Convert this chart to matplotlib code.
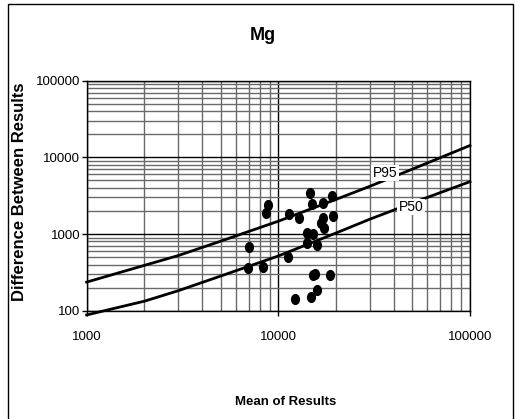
import matplotlib
matplotlib.use("Agg")
import matplotlib.pyplot as plt
from matplotlib.patches import Rectangle
from matplotlib.path import Path
from matplotlib.transforms import Affine2D
from matplotlib.ticker import FixedLocator, FixedFormatter, LogLocator, NullFormatter

# scatter: mean of results vs difference between results
mean_vals = [14620, 8800, 8590, 14930, 17030, 18980, 11410, 12860, 19230, 17030,
             16700, 17300, 14160, 15100, 14160, 15950, 7050, 11270, 6920, 8340,
             15210, 15520, 18620, 15850, 14750, 12210]
diff_vals = [3460, 2390, 1863, 2440, 2520, 3130, 1810, 1600, 1720, 1600,
             1380, 1210, 1020, 1000, 757, 719, 671, 506, 357, 368,
             292, 298, 292, 186, 152, 141]

# precision curves
curve_x = [1000, 2000, 3000, 5000, 10000, 20000, 30000, 50000, 100000]
p95_y = [236, 390, 523, 806, 1470, 2830, 4190, 7010, 14280]
p50_y = [88, 133, 182, 283, 517, 1031, 1560, 2540, 4820]

x_ticks = [1000, 10000, 100000]
x_labels = ["1000", "10000", "100000"]
y_ticks = [100, 1000, 10000, 100000]
y_labels = ["100", "1000", "10000", "100000"]

font = ["Liberation Sans", "DejaVu Sans"]

fig = plt.figure(figsize=(5.15, 4.19), dpi=100)
ax = fig.add_axes([0.1683, 0.2585, 0.9126 - 0.1683, 0.8074 - 0.2585])

ax.set_xscale("log")
ax.set_yscale("log")
ax.set_xlim(1000, 100000)
ax.set_ylim(100, 100000)

ax.xaxis.set_minor_locator(LogLocator(base=10, subs=range(2, 10)))
ax.yaxis.set_minor_locator(LogLocator(base=10, subs=range(2, 10)))
ax.xaxis.set_minor_formatter(NullFormatter())
ax.yaxis.set_minor_formatter(NullFormatter())
ax.xaxis.set_major_locator(FixedLocator(x_ticks))
ax.xaxis.set_major_formatter(FixedFormatter(x_labels))
ax.yaxis.set_major_locator(FixedLocator(y_ticks))
ax.yaxis.set_major_formatter(FixedFormatter(y_labels))

ax.grid(True, which="minor", color="#6a6a6a", lw=1.0)
ax.grid(True, which="major", color="black", lw=1.0)
ax.set_axisbelow(True)
ax.tick_params(which="minor", length=0)
ax.tick_params(which="major", direction="out", length=3.5, width=1, color="black")
ax.tick_params(axis="x", pad=11)
ax.tick_params(axis="y", pad=1)
for lab in ax.get_xticklabels() + ax.get_yticklabels():
    lab.set_family(font)
    lab.set_fontsize(9.5)
for sp in ax.spines.values():
    sp.set_color("black")
    sp.set_linewidth(1)

# slightly tall oval dots like the original
dot = Path.unit_circle().transformed(Affine2D().scale(0.8, 1.0))

ax.plot(curve_x, p95_y, color="black", lw=2, clip_on=False, zorder=3)
ax.plot(curve_x, p50_y, color="black", lw=2, clip_on=False, zorder=3)
ax.plot(mean_vals, diff_vals, ls="none", marker=dot, color="black", ms=7, zorder=4)

box = dict(boxstyle="square,pad=0.1", fc="white", ec="none")
ax.text(35970, 6250, "P95", family=font, fontsize=10, ha="center", va="center",
        bbox=box, zorder=5)
ax.text(49200, 2250, "P50", family=font, fontsize=10, ha="center", va="center",
        bbox=box, zorder=5)

fig.text(263 / 515, 1 - 36 / 419, "Mg", family=font, fontsize=13, fontweight="bold",
         ha="center", va="center")
fig.text(286 / 515, 1 - 402 / 419, "Mean of Results", family=font, fontsize=9.5,
         fontweight="bold", ha="center", va="center")
fig.text(20 / 515, 1 - 192 / 419, "Difference Between Results", family=font, fontsize=12,
         fontweight="bold", rotation=90, ha="center", va="center")

# chart area border
fig.patches.append(Rectangle((8 / 515, -0.01), (513 - 8) / 515, 1 - 4 / 419 + 0.01,
                             transform=fig.transFigure, fill=False, ec="black", lw=1))

fig.savefig("out.png", dpi=100)
